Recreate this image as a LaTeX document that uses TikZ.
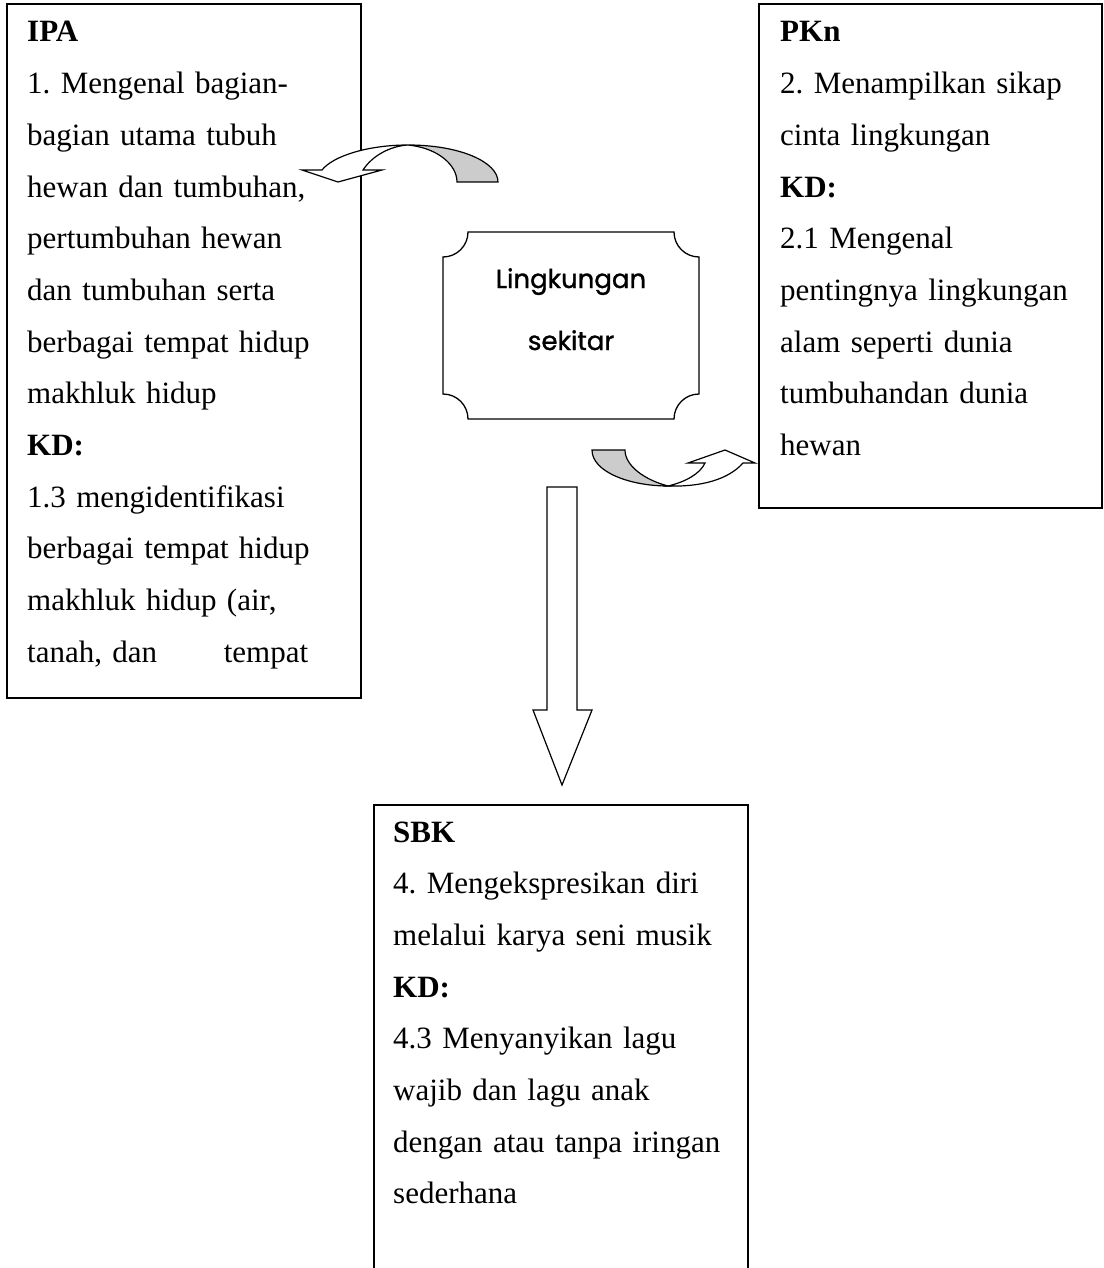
\documentclass[tikz,border=0pt]{standalone}
\usepackage{fontspec}
\setmainfont{Liberation Serif}
\newfontfamily\plaquefont[FakeBold=1.2]{Poppins}
\newcommand\bodyfont{\fontsize{31}{51.7}\selectfont\frenchspacing}
\begin{document}
\begin{tikzpicture}[x=1pt,y=-1pt,
  boxline/.style={draw, line width=1.6pt, rectangle, inner sep=0pt, anchor=north west},
  bodytext/.style={font=\bodyfont, align=left, inner sep=0pt, anchor=base west},
  frontside/.style={draw, line width=1.2pt, line join=miter, fill=white},
  backside/.style={draw, line width=1.2pt, line join=miter, fill=black!20},
]
\path[use as bounding box] (0,0) rectangle (1103,1268);
\clip (0,0) rectangle (1103,1268);

% boxes
\node[boxline, minimum width=354pt, minimum height=694pt] (ipa) at (6,3) {};
\node[boxline, minimum width=343pt, minimum height=504pt] (pkn) at (758,3) {};
\node[boxline, minimum width=374pt, minimum height=500pt] (sbk) at (373,804) {};

% texts
\node[bodytext, text width=330pt] (ipatext) at (27,42) {%
\textbf{IPA}\\
1. Mengenal bagian-\\
bagian utama tubuh\\
hewan dan tumbuhan,\\
pertumbuhan hewan\\
dan tumbuhan serta\\
berbagai tempat hidup\\
makhluk hidup\\
\textbf{KD:}\\
1.3 mengidentifikasi\\
berbagai tempat hidup\\
makhluk hidup (air,\\
\makebox[281pt][l]{tanah, dan\hfill tempat}};

\node[bodytext, text width=320pt] (pkntext) at (780,42) {%
\textbf{PKn}\\
2. Menampilkan sikap\\
cinta lingkungan\\
\textbf{KD:}\\
2.1 Mengenal\\
pentingnya lingkungan\\
alam seperti dunia\\
tumbuhandan dunia\\
hewan};

\node[bodytext, text width=350pt] (sbktext) at (393,842) {%
\textbf{SBK}\\
4. Mengekspresikan diri\\
melalui karya seni musik\\
\textbf{KD:}\\
4.3 Menyanyikan lagu\\
wajib dan lagu anak\\
dengan atau tanpa iringan\\
sederhana};

% plaque
\draw[line width=1.3pt, fill=white]
  (468,232) -- (674,232) .. controls (674,245.8) and (685.2,257) .. (699,257)
  -- (699,394) .. controls (685.2,394) and (674,405.2) .. (674,419)
  -- (468,419) .. controls (468,405.2) and (456.8,394) .. (443,394)
  -- (443,257) .. controls (456.8,257) and (468,245.8) .. (468,232) -- cycle;
\node[font=\plaquefont\fontsize{26}{62}\selectfont, align=center, text width=220pt, anchor=base, inner sep=0pt] (plaquetext) at (571,288) {Lingkungan\\sekitar};

% curved arrow to IPA (top)
\filldraw[backside] (408,145) .. controls (460,145) and (498,162) .. (498,182)
  -- (457,182) .. controls (457,165) and (438,148) .. (408,145) -- cycle;
\filldraw[frontside] (408,145) .. controls (368,145) and (333,156) .. (322,170)
  -- (302,170) -- (338,182) -- (382,170) -- (363,170)
  .. controls (372,156) and (390,146) .. (408,145) -- cycle;

% curved arrow to PKn (bottom)
\filldraw[backside] (592,450) .. controls (592,472) and (630,486) .. (668,486)
  .. controls (645,480) and (625,466) .. (625,450) -- cycle;
\filldraw[frontside] (668,486) .. controls (685,482) and (700,474) .. (705,463)
  -- (688,463) -- (725,450) -- (755,463) -- (743,463)
  .. controls (728,480) and (700,487) .. (668,486) -- cycle;

% down block arrow
\filldraw[frontside] (547,487) -- (577,487) -- (577,710) -- (592,710) -- (562,785)
  -- (533,710) -- (547,710) -- cycle;
\end{tikzpicture}
\end{document}
